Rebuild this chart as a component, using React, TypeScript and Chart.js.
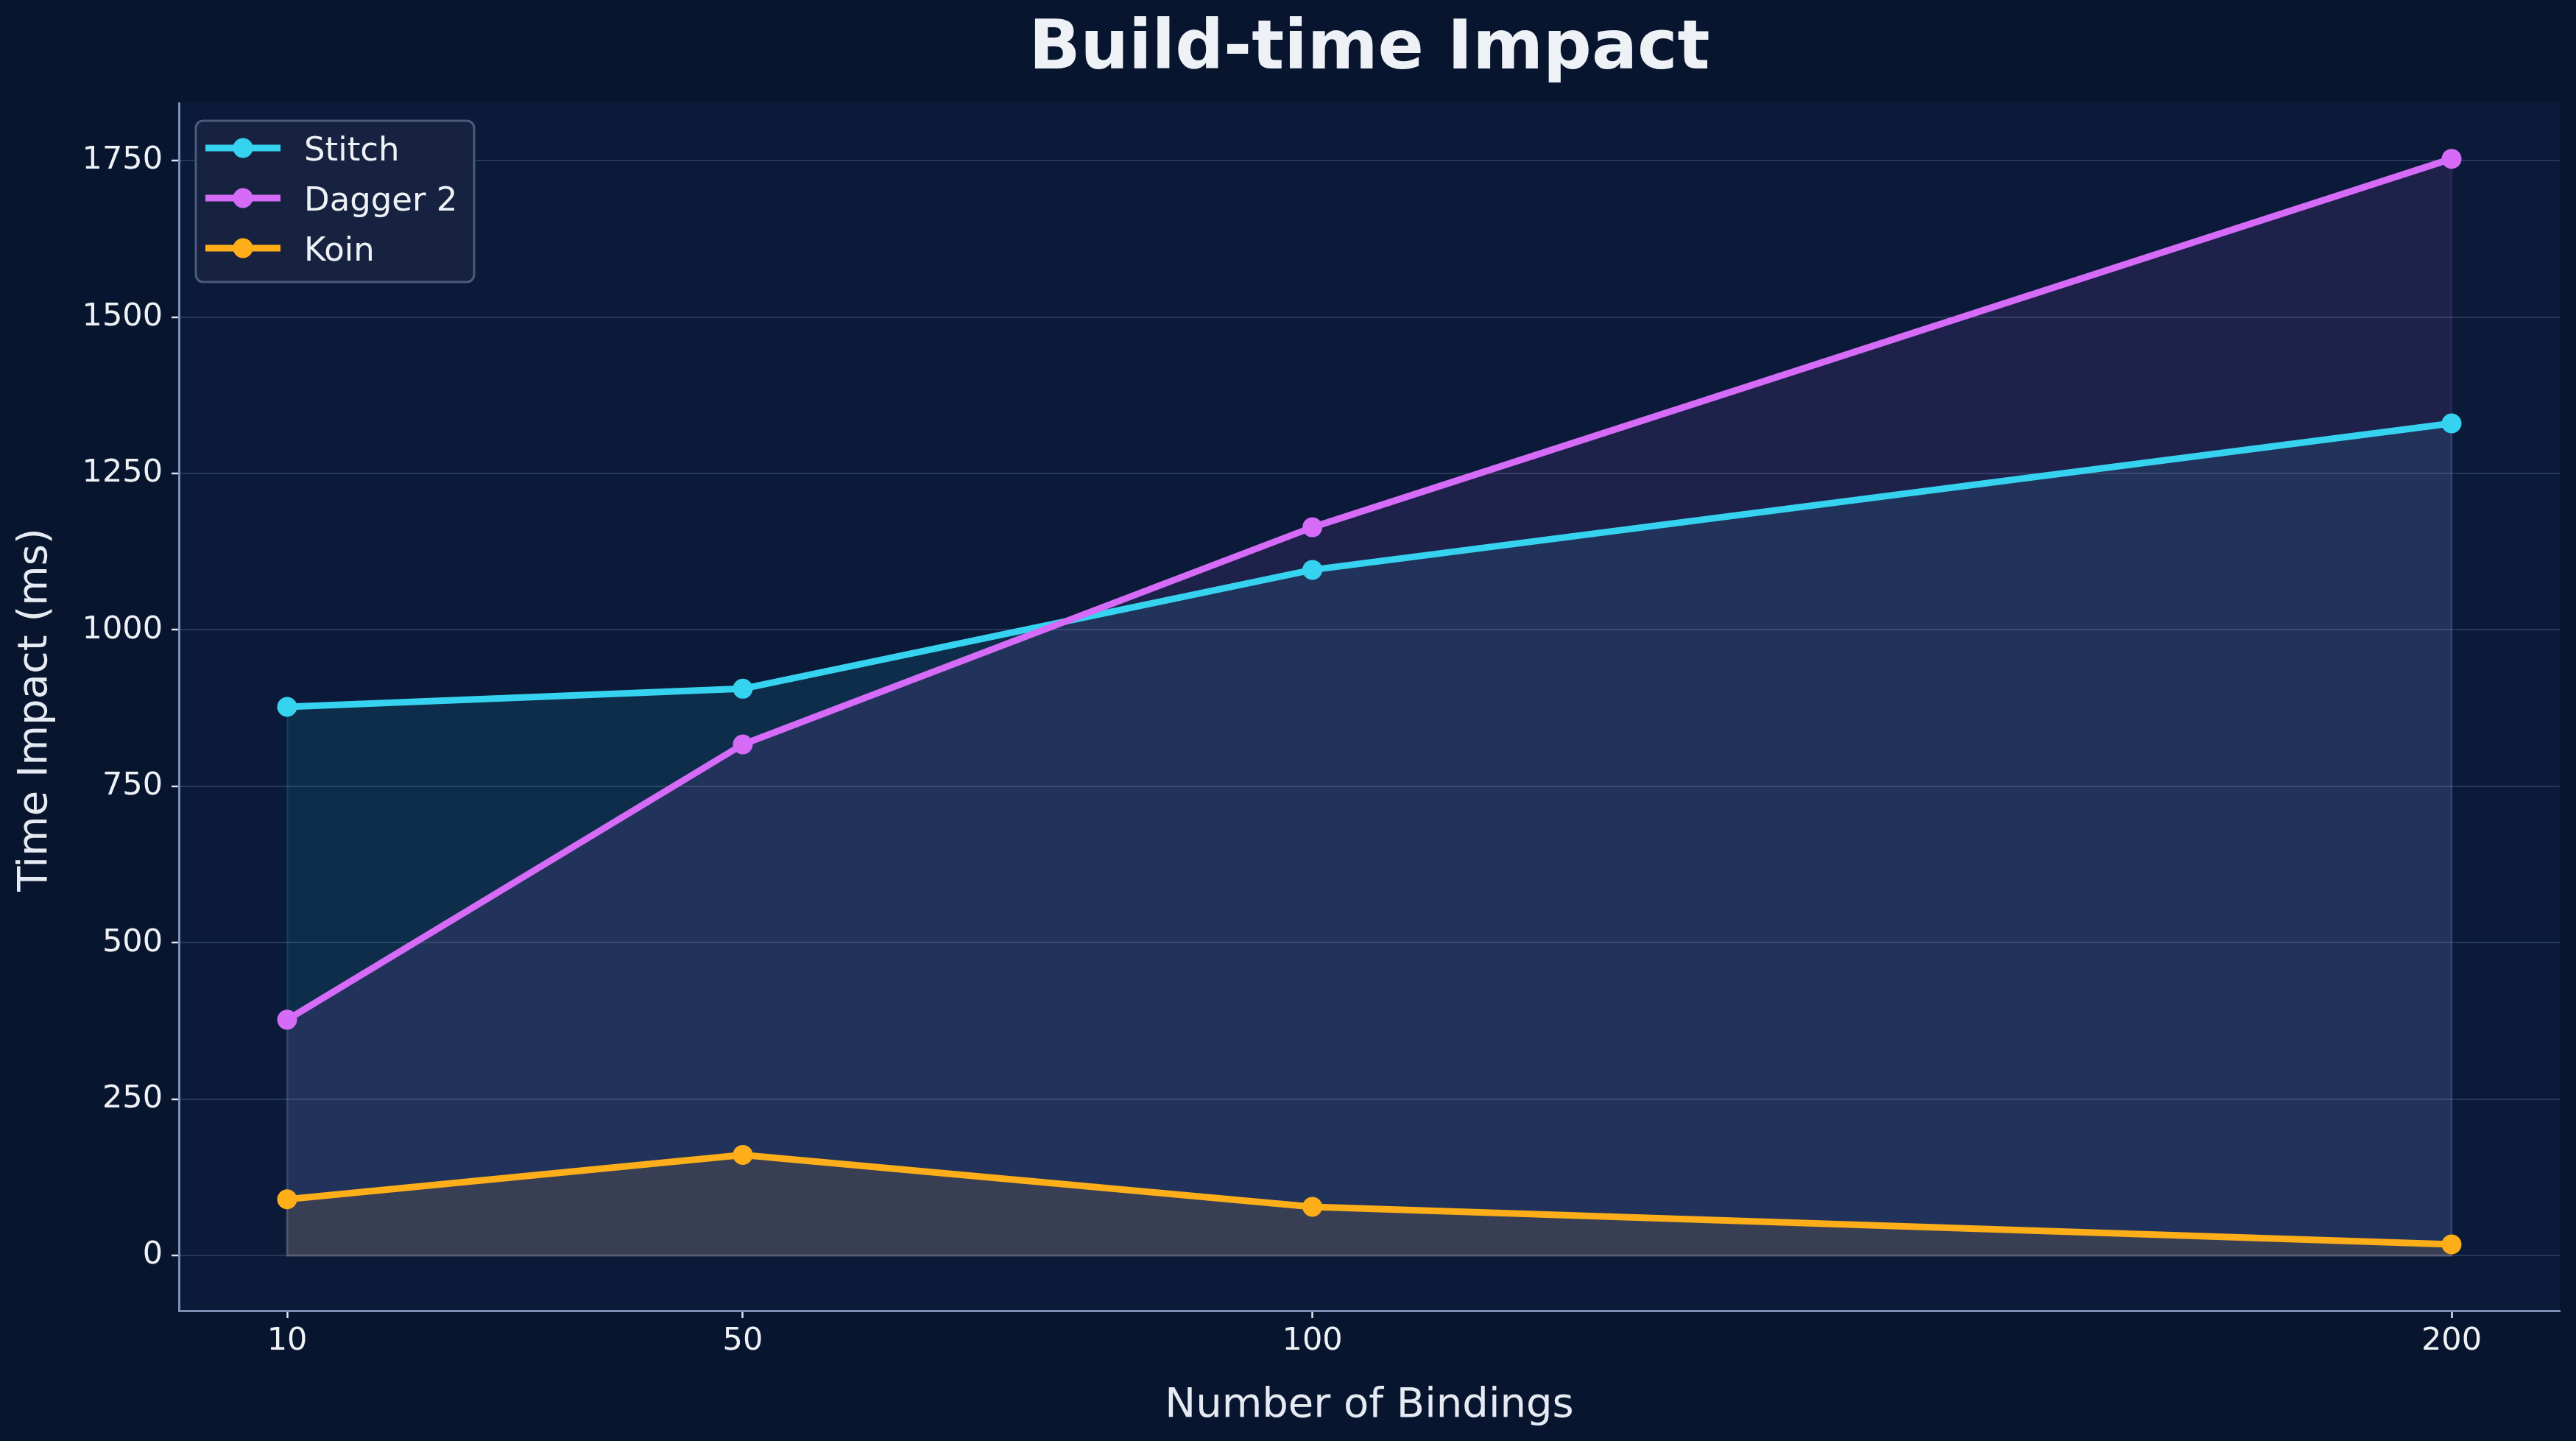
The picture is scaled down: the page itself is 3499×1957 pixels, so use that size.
import React, { useEffect, useRef } from "react";
import { Chart, registerables } from "chart.js";

Chart.register(...registerables);

// ---- Data ----
const bindings = [10, 50, 100, 200];
const stitchMs = [877, 906, 1096, 1330];
const daggerMs = [377, 817, 1164, 1753];
const koinMs = [90, 161, 78, 18];
const xTickValues = [10, 50, 100, 200];
const yTickValues = [0, 250, 500, 750, 1000, 1250, 1500, 1750];
const seriesNames = ["Stitch", "Dagger 2", "Koin"];
const seriesColors = ["#36d3f0", "#d56bf7", "#fdae19"];
const seriesFills = ["rgba(54,211,240,0.10)", "rgba(213,107,247,0.10)", "rgba(253,174,25,0.10)"];
const chartTitle = "Build-time Impact";
const xTitle = "Number of Bindings";
const yTitle = "Time Impact (ms)";

const W = 3499;
const H = 1957;
const FONT = '"DejaVu Sans", "Liberation Sans", sans-serif';
const FIG_BG = "#08152e";
const AX_BG = "#0a1a38";
const TEXT = "#eef1f6";

const bgPlugin = {
  id: "bgPlugin",
  beforeDraw(chart: any) {
    const { ctx, chartArea } = chart;
    ctx.save();
    ctx.fillStyle = FIG_BG;
    ctx.fillRect(0, 0, chart.width, chart.height);
    ctx.fillStyle = AX_BG;
    ctx.fillRect(chartArea.left, chartArea.top, chartArea.right - chartArea.left, chartArea.bottom - chartArea.top);
    ctx.restore();
  },
  // faint edges of the filled areas (like matplotlib fill_between edges)
  beforeDatasetsDraw(chart: any) {
    const { ctx } = chart;
    const xs = chart.scales.x;
    const ys = chart.scales.y;
    ctx.save();
    chart.data.datasets.forEach((ds: any, i: number) => {
      const pts = ds.data as { x: number; y: number }[];
      const first = pts[0];
      const last = pts[pts.length - 1];
      ctx.strokeStyle = seriesFills[i];
      ctx.lineWidth = 3;
      ctx.beginPath();
      ctx.moveTo(xs.getPixelForValue(first.x), ys.getPixelForValue(first.y));
      ctx.lineTo(xs.getPixelForValue(first.x), ys.getPixelForValue(0));
      ctx.lineTo(xs.getPixelForValue(last.x), ys.getPixelForValue(0));
      ctx.lineTo(xs.getPixelForValue(last.x), ys.getPixelForValue(last.y));
      ctx.stroke();
    });
    ctx.restore();
  },
};

const decorPlugin = {
  id: "decorPlugin",
  afterDraw(chart: any) {
    const { ctx, chartArea } = chart;
    const cx = (chartArea.left + chartArea.right) / 2;
    const cy = (chartArea.top + chartArea.bottom) / 2;
    ctx.save();
    // title
    ctx.fillStyle = TEXT;
    ctx.font = `bold 92px ${FONT}`;
    ctx.textAlign = "center";
    ctx.textBaseline = "alphabetic";
    ctx.fillText(chartTitle, cx, 93);
    // axis titles
    ctx.font = `56px ${FONT}`;
    ctx.fillStyle = "#e6eaf2";
    ctx.fillText(xTitle, cx, 1924);
    ctx.save();
    ctx.translate(63, cy + 4);
    ctx.rotate(-Math.PI / 2);
    ctx.fillText(yTitle, 0, 0);
    ctx.restore();

    // legend
    const lx = chartArea.left + 23;
    const ly = 164;
    const lw = 378;
    const lh = 219;
    ctx.beginPath();
    ctx.roundRect(lx, ly, lw, lh, 10);
    ctx.fillStyle = "#16223f";
    ctx.fill();
    ctx.lineWidth = 3;
    ctx.strokeStyle = "#4b5b7d";
    ctx.stroke();
    ctx.font = `45px ${FONT}`;
    ctx.textAlign = "left";
    ctx.textBaseline = "alphabetic";
    seriesNames.forEach((name, i) => {
      const rowY = 201 + i * 68;
      ctx.strokeStyle = seriesColors[i];
      ctx.lineWidth = 9;
      ctx.lineCap = "butt";
      ctx.beginPath();
      ctx.moveTo(lx + 13, rowY);
      ctx.lineTo(lx + 115, rowY);
      ctx.stroke();
      ctx.fillStyle = seriesColors[i];
      ctx.beginPath();
      ctx.arc(lx + 64, rowY, 13.5, 0, Math.PI * 2);
      ctx.fill();
      ctx.fillStyle = TEXT;
      ctx.fillText(name, lx + 147, rowY + 17);
    });
    ctx.restore();
  },
};

function makeSeries(values: number[]) {
  return values.map((v, i) => ({ x: bindings[i], y: v }));
}

export default function App() {
  const canvasRef = useRef<HTMLCanvasElement | null>(null);

  useEffect(() => {
    document.body.style.margin = "0";
    document.body.style.background = FIG_BG;
    const canvas = canvasRef.current;
    if (!canvas) return;
    const allSeries = [stitchMs, daggerMs, koinMs];
    const chart = new Chart(canvas, {
      type: "line",
      data: {
        datasets: allSeries.map((vals, i) => ({
          label: seriesNames[i],
          data: makeSeries(vals),
          borderColor: seriesColors[i],
          backgroundColor: seriesFills[i],
          borderWidth: 9,
          borderJoinStyle: "round",
          pointRadius: 13.5,
          pointHoverRadius: 13.5,
          pointBackgroundColor: seriesColors[i],
          pointBorderColor: seriesColors[i],
          pointBorderWidth: 0,
          fill: "origin",
          tension: 0,
          order: 3 - i,
        })),
      },
      options: {
        responsive: false,
        animation: false,
        devicePixelRatio: 1,
        layout: { padding: { top: 140, right: 22, left: 0, bottom: 0 } },
        plugins: {
          legend: { display: false },
          title: { display: false },
          tooltip: { enabled: false },
          filler: { drawTime: "beforeDatasetsDraw" },
        } as any,
        scales: {
          x: {
            type: "linear",
            min: 0.5,
            max: 209.5,
            afterBuildTicks: (scale: any) => {
              scale.ticks = xTickValues.map((v) => ({ value: v }));
            },
            afterFit: (scale: any) => {
              scale.height = H - 1780;
              scale.paddingLeft = 0;
              scale.paddingRight = 0;
            },
            grid: {
              drawOnChartArea: false,
              drawTicks: true,
              tickLength: 10,
              tickColor: "#dfe5ef",
              tickWidth: 2.5,
            },
            border: { display: true, color: "#7b8fb5", width: 3 },
            ticks: {
              autoSkip: false,
              maxRotation: 0,
              color: TEXT,
              padding: 6,
              font: { family: FONT, size: 43 },
              callback: (v: any) => String(v),
            },
          },
          y: {
            type: "linear",
            min: -88,
            max: 1842,
            afterBuildTicks: (scale: any) => {
              scale.ticks = yTickValues.map((v) => ({ value: v }));
            },
            afterFit: (scale: any) => {
              scale.width = 243;
              scale.paddingTop = 0;
              scale.paddingBottom = 0;
            },
            grid: {
              color: "#263759",
              lineWidth: 2,
              drawTicks: true,
              tickLength: 10,
              tickColor: "#dfe5ef",
              tickWidth: 2.5,
            },
            border: { display: true, color: "#7b8fb5", width: 3 },
            ticks: {
              autoSkip: false,
              color: TEXT,
              padding: 12,
              font: { family: FONT, size: 43 },
              callback: (v: any) => String(v),
            },
          },
        },
      },
      plugins: [bgPlugin, decorPlugin],
    } as any);
    return () => chart.destroy();
  }, []);

  return (
    <div style={{ width: W, height: H, position: "relative", background: FIG_BG }}>
      <canvas ref={canvasRef} width={W} height={H} style={{ width: W, height: H, display: "block" }} />
    </div>
  );
}
